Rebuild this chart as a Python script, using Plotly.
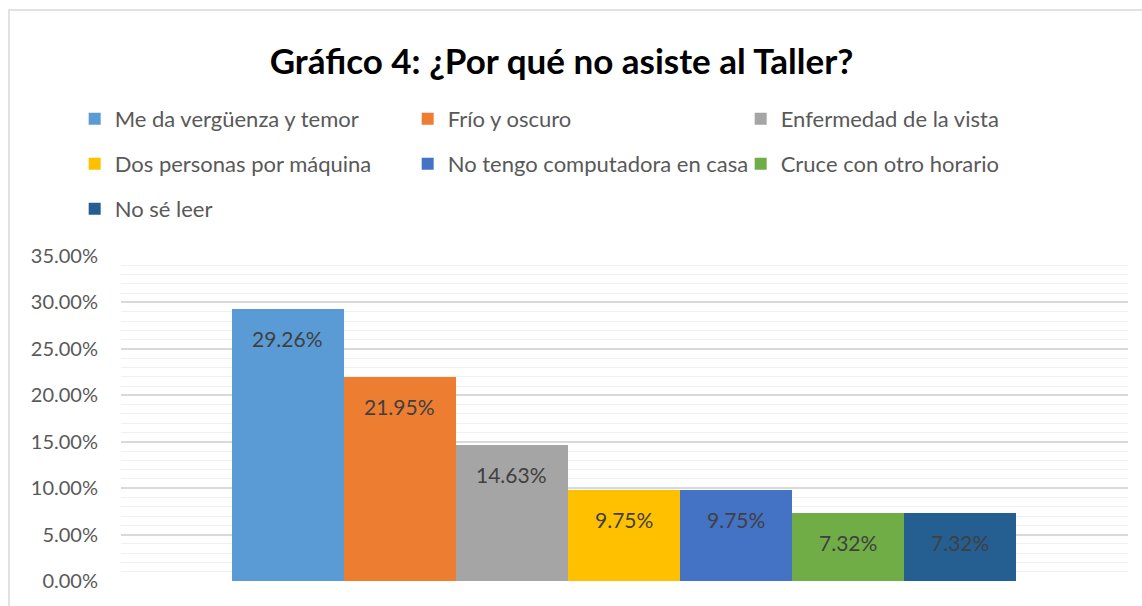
import plotly.graph_objects as go

# ── data ───────────────────────────────────────────────────────────────────
CATEGORIES = [
    "Me da vergüenza y temor",
    "Frío y oscuro",
    "Enfermedad de la vista",
    "Dos personas por máquina",
    "No tengo computadora en casa",
    "Cruce con otro horario",
    "No sé leer",
]
VALUES = [0.2926, 0.2195, 0.1463, 0.0975, 0.0975, 0.0732, 0.0732]
Y_TICKS = [0, 0.05, 0.10, 0.15, 0.20, 0.25, 0.30, 0.35]

# ── colours (Office palette) ───────────────────────────────────────────────
COLORS = ["#5B9BD5", "#ED7D31", "#A5A5A5", "#FFC000", "#4472C4", "#70AD47", "#255E91"]
LEGEND_ROW = ["legend", "legend", "legend", "legend2", "legend2", "legend2", "legend3"]

FONT = "Lato, Open Sans, sans-serif"
TXT = "#595959"

fig = go.Figure()

for name, val, col, lg in zip(CATEGORIES, VALUES, COLORS, LEGEND_ROW):
    fig.add_trace(go.Bar(
        x=[name], y=[val],
        name=name,
        marker=dict(color=col, line=dict(width=0)),
        legend=lg,
        hovertemplate="%{y:.2%}<extra>" + name + "</extra>",
    ))
    # data label inside the top of each bar
    fig.add_annotation(
        x=name, y=val, text=f"{val:.2%}",
        showarrow=False, yanchor="middle", yshift=-29,
        font=dict(family=FONT, size=21, color="#404040"),
    )

legend_common = dict(
    orientation="h",
    entrywidth=288, entrywidthmode="pixels",
    font=dict(family=FONT, size=22, color=TXT),
    bgcolor="rgba(0,0,0,0)",
    x=-0.046, xanchor="left", yanchor="middle",
    itemclick=False, itemdoubleclick=False,
)

fig.update_layout(
    width=1142, height=606,
    paper_bgcolor="white",
    plot_bgcolor="white",
    margin=dict(l=121, r=14, t=256, b=25),
    barmode="overlay",
    bargap=0,
    showlegend=True,
    title=dict(
        text="<b>Gráfico 4: ¿Por qué no asiste al Taller?</b>",
        font=dict(family=FONT, size=35, color="black"),
        x=0.4917, xref="container", xanchor="center",
        y=1 - 62 / 606, yref="container", yanchor="middle",
    ),
    xaxis=dict(
        type="category",
        categoryorder="array", categoryarray=CATEGORIES,
        range=[-1.49, 7.5],
        showticklabels=False, showgrid=False, zeroline=False,
        showline=False, fixedrange=True,
    ),
    yaxis=dict(
        range=[0, 0.35],
        tickvals=Y_TICKS,
        tickformat=".2%",
        tickfont=dict(family=FONT, size=20, color=TXT),
        showgrid=True, gridcolor="#D9D9D9", gridwidth=1.5,
        minor=dict(dtick=0.01, showgrid=True, gridcolor="#F0F0F0", gridwidth=1),
        zeroline=False, showline=False,
        ticks="", ticklabelstandoff=22,
        fixedrange=True,
    ),
    legend=dict(**legend_common, y=(581 - 119) / 325),
    legend2=dict(**legend_common, y=(581 - 164) / 325),
    legend3=dict(**legend_common, y=(581 - 209) / 325),
    shapes=[dict(
        type="rect", xref="paper", yref="paper",
        x0=(9 - 121) / 1007, x1=1.05,
        y0=-0.2, y1=(581 - 10) / 325,
        line=dict(color="#D9D9D9", width=1.5),
        fillcolor="rgba(0,0,0,0)", layer="below",
    )],
)

fig.write_html(
    "out.html",
    config=dict(displayModeBar=False),
    post_script="document.body.style.margin='0';",
)
